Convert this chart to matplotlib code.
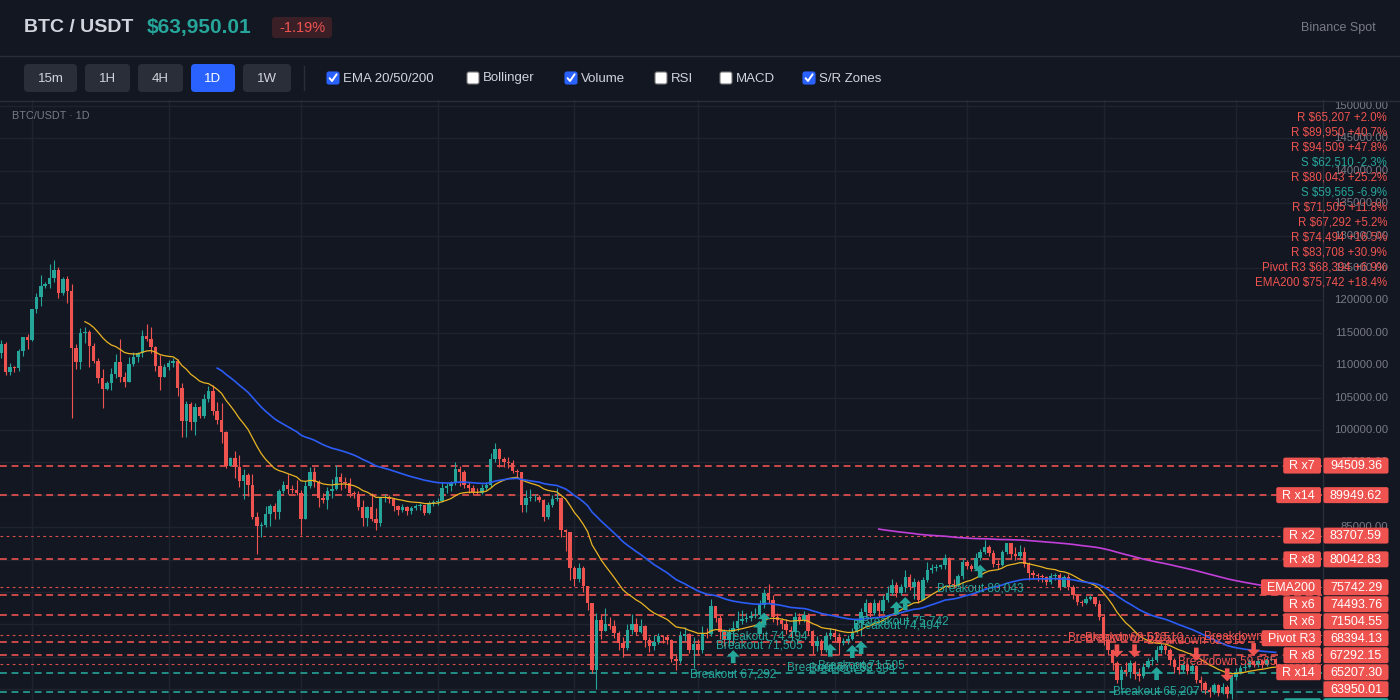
import matplotlib
matplotlib.use('Agg')
import matplotlib.pyplot as plt
from matplotlib.patches import FancyBboxPatch, Polygon
import numpy as np
import pandas as pd

plt.rcParams['font.family'] = ['Liberation Sans', 'DejaVu Sans']

# colours
BG = '#131722'
GRID = '#1f2330'
LINE = '#2a2e39'
UP = '#26a69a'
DOWN = '#ef5350'
TXT = '#d1d4dc'
MUTED = '#787b86'

# ---- daily BTC/USDT candles ----
start_date = '2025-09-24'
first_open = 111930
closes = [
    113270, 109000, 109770, 109500, 112240, 114300, 113890, 118620, 120570, 122220,
    122480, 123500, 124690, 121190, 123350, 121500, 112700, 110540, 114920, 115170,
    112960, 110700, 108080, 106380, 107300, 108640, 110490, 108230, 107460, 110190,
    111210, 111830, 114510, 113990, 112760, 109880, 108130, 109770, 110290, 110700,
    106530, 101390, 104010, 101240, 103500, 102160, 104730, 106070, 102930, 101550,
    99750, 94450, 95630, 94240, 92190, 93060, 91520, 86630, 85190, 85340,
    87040, 88280, 87400, 90590, 91520, 90850, 90750, 90230, 86320, 91360,
    93570, 92030, 89460, 89200, 90640, 90850, 92800, 91930, 91770, 90330,
    90130, 88170, 86480, 88070, 86320, 85600, 89500, 89700, 89300, 88200,
    87600, 88100, 87500, 87900, 88300, 88430,
    87250, 88690, 88900, 89100, 91000, 91300, 91870, 93930, 93570, 91500,
    91000, 90490, 90300, 91000, 91500, 95470, 97020, 95470, 95100, 94900,
    93720, 93500, 88430, 89450, 89600, 89700, 89200, 86630, 88430, 89300,
    89500, 84570, 84300, 78760,
    76960, 78700, 75900, 73360, 63000, 70700, 69000, 70000, 69700, 68600,
    67150, 66300, 69100, 70000, 68900, 69700, 67600, 66600, 67300, 68200,
    68000, 67600, 64700, 64300, 68200, 68500, 66100, 67000, 66100, 68700,
    68500, 72800, 71000, 68900, 67600, 68800, 69500, 70500, 70800, 71000,
    71300, 71500, 73000, 74900, 73800, 71200, 70700, 70000, 69200, 68900,
    71200, 70700, 71400, 69000, 66600, 67400, 66100, 68200, 68600, 68100,
    67200, 67500, 67800,
    68900, 70170, 71970, 73260, 71700, 73260, 72000, 73770, 74800, 76100,
    74800, 75800, 77370, 75800, 76600, 73800, 76860, 78400, 78650, 78900,
    79100, 80200, 76300, 76100, 77400, 79700, 79000, 78600, 80200, 81200,
    82000, 81000, 79400, 79200, 81200, 82500, 80800, 80500, 81200, 79400,
    77900, 77600, 77500, 77300, 76600, 77500, 77600, 75800, 77300, 75830,
    74560, 73500, 73300, 74000, 74200, 73200, 71200, 67600, 66000, 64000,
    61430, 62900, 62600, 64000, 62400, 62100, 63500, 64300, 64500, 66000,
    66600, 66000, 64500, 63500, 63000, 63800, 62800, 63600, 61400, 60900,
    59900, 59600, 60600, 59400, 60400, 59300, 61900, 62700, 63300, 63500,
    64300, 63800, 64300, 63700, 64500, 64700, 63950,
]
highs = [
    113900, 113600, 110290, 109800, 112450, 114400, 114800, 118700, 121090, 123910,
    122890, 125610, 126230, 125100, 123660, 123760, 122530, 113270, 115680, 115940,
    115430, 113370, 111060, 109360, 107610, 109520, 111730, 113990, 109000, 111210,
    112080, 112080, 115430, 116350, 115940, 112960, 111570, 110180, 110800, 111060,
    110900, 107300, 104530, 104370, 104120, 103700, 105560, 106790, 106940, 104370,
    104120, 99850, 95890, 96800, 96170, 93930, 93310, 93210, 87400, 85860,
    88270, 88580, 88690, 90850, 92180, 93210, 91520, 92290, 90740, 92180,
    94240, 94240, 92290, 90330, 91260, 92390, 94600, 93360, 92800, 92550,
    90640, 90640, 89200, 88280, 90230, 87910, 89720, 90100, 90000, 89500,
    88400, 88600, 88300, 88200, 88600, 88800,
    88430, 89000, 89200, 89500, 92000, 91800, 92100, 95000, 94400, 93830,
    92000, 91500, 91000, 91600, 92000, 96400, 98000, 97200, 95900, 95800,
    95300, 94000, 93400, 90700, 90900, 90200, 89900, 89400, 88900, 89900,
    91100, 89600, 84800, 84200,
    79000, 79500, 79000, 76000, 73300, 71800, 71400, 72500, 71200, 70700,
    69000, 68000, 70000, 71600, 71000, 70900, 69900, 68000, 68300, 68700,
    68400, 68300, 67800, 65300, 69000, 69600, 68700, 68000, 67700, 69800,
    69400, 73900, 72800, 71400, 69300, 69400, 70500, 72000, 72200, 71700,
    72000, 72500, 73800, 75400, 76200, 74500, 71700, 71000, 70800, 69800,
    71900, 71800, 72000, 71800, 69200, 68200, 67800, 68800, 69500, 69300,
    68600, 67900, 68300,
    69500, 70700, 72600, 73900, 73500, 74000, 73800, 74500, 76000, 77000,
    76500, 76300, 78400, 77800, 77200, 76800, 77300, 79700, 79300, 79300,
    79400, 80800, 80400, 77000, 77800, 80200, 79900, 79300, 81000, 81700,
    83030, 82300, 81500, 80000, 81500, 82600, 82500, 82000, 82300, 82000,
    79600, 78400, 78000, 77800, 77500, 77900, 78000, 77900, 77700, 77800,
    76100, 74700, 73800, 74400, 74600, 74300, 73800, 71600, 67800, 66200,
    64300, 63600, 64200, 64500, 64300, 63200, 64000, 64800, 65000, 66600,
    67200, 67000, 66300, 64800, 63900, 64200, 63900, 64100, 63800, 62000,
    61200, 60400, 61000, 60800, 60900, 60600, 62400, 63200, 63800, 64000,
    64700, 64500, 64800, 64600, 64900, 65100, 64800,
]
lows = [
    111060, 108490, 108490, 108900, 109160, 111420, 112450, 113800, 118000, 119130,
    121860, 121960, 122890, 120420, 120830, 119540, 101900, 109460, 109460, 113470,
    109770, 110290, 107300, 103450, 106170, 106170, 107970, 107460, 106690, 107460,
    109870, 110540, 111310, 113780, 111830, 109160, 106170, 108130, 109260, 109770,
    105240, 98970, 98970, 100000, 99230, 101800, 101800, 104370, 102320, 100880,
    98050, 94090, 94450, 92550, 91260, 89300, 89820, 86220, 80800, 83540,
    84980, 85190, 86220, 86220, 90230, 90130, 90330, 89970, 83800, 86220,
    91000, 91160, 88070, 88790, 87760, 89460, 90740, 90740, 91000, 89720,
    89460, 87660, 85190, 85190, 86010, 84570, 85190, 88900, 88700, 87500,
    86900, 87300, 86900, 87100, 87600, 87700,
    86900, 87100, 88300, 88500, 88900, 90300, 90600, 91500, 91300, 91000,
    90300, 89960, 90000, 90200, 90800, 91200, 95000, 94300, 94300, 94100,
    93300, 92600, 87300, 87300, 89000, 89100, 88900, 85900, 86300, 88100,
    89000, 83500, 81300, 76900,
    76000, 76500, 75000, 72300, 62500, 59990, 67800, 69000, 69300, 67900,
    66000, 65000, 66000, 68500, 68300, 68700, 66500, 65800, 66000, 67000,
    67200, 67000, 64200, 63000, 64000, 67500, 65600, 63300, 65400, 65600,
    67900, 68200, 70300, 67800, 66600, 66700, 66800, 69000, 70000, 70300,
    70500, 71000, 71300, 72600, 73300, 70400, 69900, 69300, 68500, 68000,
    68600, 70000, 70300, 68300, 65500, 65900, 65500, 65800, 67800, 67500,
    65300, 66900, 67000,
    67600, 68600, 68200, 71000, 71200, 71500, 71200, 71700, 73500, 74600,
    74300, 74600, 75000, 75300, 74000, 73300, 73800, 76500, 77900, 78200,
    78500, 78500, 75800, 75600, 75800, 77000, 78500, 78200, 78400, 80000,
    80900, 80500, 78900, 78600, 79000, 80800, 80300, 80000, 80100, 78800,
    76800, 77000, 76700, 76600, 76100, 76300, 76800, 75300, 75700, 75300,
    74000, 73000, 72800, 73100, 73700, 72900, 70700, 66800, 65300, 63000,
    60900, 60000, 62000, 61800, 61600, 61300, 61700, 63200, 63800, 64200,
    65600, 65400, 63800, 62500, 62400, 62600, 62300, 62500, 60900, 59800,
    59300, 58800, 59200, 58900, 59200, 58700, 58500, 61400, 62300, 62800,
    63200, 63400, 63500, 63300, 63600, 64300, 63600,
]

# support / resistance levels shown on the price scale
level_prices = [94509.36, 89949.62, 83707.59, 80042.83, 75742.29, 74493.76, 71504.55,
                68394.13, 67292.15, 65207.30, 63950.01, 62510.00, 59565.00]
level_names = ['R x7', 'R x14', 'R x2', 'R x8', 'EMA200', 'R x6', 'R x6',
               'Pivot R3', 'R x8', 'R x14', '', 'S x9', 'S x11']
level_side = ['R', 'R', 'R', 'R', 'R', 'R', 'R', 'R', 'R', 'R', 'R', 'S', 'S']
level_dotted = [False, False, True, False, True, False, False, True, False, False, True, False, False]

zone_list = ['R $65,207 +2.0%', 'R $89,950 +40.7%', 'R $94,509 +47.8%', 'S $62,510 -2.3%',
             'R $80,043 +25.2%', 'S $59,565 -6.9%', 'R $71,505 +11.8%', 'R $67,292 +5.2%',
             'R $74,494 +16.5%', 'R $83,708 +30.9%', 'Pivot R3 $68,394 +6.9%',
             'EMA200 $75,742 +18.4%']

# signal markers (bar index, text)
breakout_bars = [166, 172, 173, 188, 193, 195, 203, 205, 222, 262]
breakout_texts = ['Breakout 67,292', 'Breakout 71,505', 'Breakout 74,494', 'Breakout 67,292',
                  'Breakout 68,394', 'Breakout 71,505', 'Breakout 74,494', 'Breakout 75,742',
                  'Breakout 80,043', 'Breakout 65,207']
breakdown_bars = [253, 257, 271, 278, 284]
breakdown_texts = ['Breakdown 62,510', 'Breakdown 62,510', 'Breakdown 62,510',
                   'Breakdown 59,565', 'Breakdown 62,510']

timeframes = ['15m', '1H', '4H', '1D', '1W']
active_tf = '1D'
toggles = ['EMA 20/50/200', 'Bollinger', 'Volume', 'RSI', 'MACD', 'S/R Zones']
toggle_on = [True, False, True, False, False, True]

# ---- prepare ----
n = len(closes)
dates = pd.date_range(start_date, periods=n, freq='D')
o = np.array([first_open] + closes[:-1], dtype=float)
c = np.array(closes, dtype=float)
h = np.maximum(np.array(highs, dtype=float), np.maximum(o, c))
l = np.minimum(np.array(lows, dtype=float), np.minimum(o, c))
xs = np.arange(n)
cols = np.where(c >= o, UP, DOWN)

fig = plt.figure(figsize=(14, 7), dpi=100, facecolor=BG)
ax = fig.add_axes([0, 0, 1322 / 1400, 600 / 700])
ax.set_facecolor(BG)
ax.set_xlim(-0.25, 299.5)
ax.set_ylim(58339, 150919)
for s in ax.spines.values():
    s.set_visible(False)
ax.set_xticks([])
ax.set_yticks([])

for p in range(60000, 155000, 5000):
    ax.axhline(p, color=GRID, lw=1, zorder=0)
for i in np.where(dates.day == 1)[0]:
    ax.axvline(i, color=GRID, lw=1, zorder=0)

# S/R lines
for p, side, dot in zip(level_prices, level_side, level_dotted):
    col = UP if side == 'S' else DOWN
    if dot:
        ax.axhline(p, color=col, lw=0.8, ls=(0, (2.5, 3)), alpha=0.9, zorder=2)
    else:
        ax.axhline(p, color=col, lw=1.3, ls=(0, (3.8, 2.6)), alpha=0.9, zorder=2)

# candles
ax.vlines(xs, l, h, colors=cols, lw=0.8, zorder=3)
ax.bar(xs, np.maximum(np.abs(c - o), 120), bottom=np.minimum(o, c), width=0.78,
       color=cols, linewidth=0, zorder=4)

# EMAs
cs = pd.Series(c)
for span, col, lw in [(20, '#e9b422', 0.9), (50, '#2b5cf5', 1.2), (200, '#c23fd9', 1.2)]:
    e = cs.ewm(span=span, adjust=False).mean()
    ax.plot(xs[span - 1:], e[span - 1:], color=col, lw=lw, zorder=5)

# ---- overlay in pixel coordinates ----
ov = fig.add_axes([0, 0, 1, 1])
ov.set_zorder(10)
ov.patch.set_visible(False)
ov.set_xlim(0, 1400)
ov.set_ylim(700, 0)
ov.axis('off')


def to_px(xv, yv):
    return ov.transData.inverted().transform(ax.transData.transform((xv, yv)))


# header
ov.text(24, 28, 'BTC / USDT', color=TXT, fontsize=14, fontweight='bold', va='center')
ov.text(147, 28, '$63,950.01', color=UP, fontsize=15, fontweight='bold', va='center')
ov.add_patch(FancyBboxPatch((272, 17), 60, 21, boxstyle='round,pad=0,rounding_size=3',
                            fc='#3a1f27', ec='none'))
ov.text(302, 28, '-1.19%', color=DOWN, fontsize=10.5, ha='center', va='center')
ov.text(1376, 28, 'Binance Spot', color=MUTED, fontsize=9, ha='right', va='center')
ov.plot([0, 1400], [55.5, 55.5], color=LINE, lw=1)
ov.plot([0, 1400], [100.5, 100.5], color=LINE, lw=1)

btn_x = [24, 85, 138, 191, 243]
btn_w = [53, 45, 45, 44, 48]
for tf, bx, bw in zip(timeframes, btn_x, btn_w):
    fc = '#2962ff' if tf == active_tf else '#2a2e39'
    ov.add_patch(FancyBboxPatch((bx, 64), bw, 28, boxstyle='round,pad=0,rounding_size=4',
                                fc=fc, ec='none'))
    ov.text(bx + bw / 2, 78.5, tf, color='white' if tf == active_tf else TXT,
            fontsize=9.5, ha='center', va='center')
ov.plot([304, 304], [66, 90], color=LINE, lw=1)

tg_x = [327, 467, 565, 655, 720, 803]
for name, on, tx in zip(toggles, toggle_on, tg_x):
    ov.add_patch(FancyBboxPatch((tx, 72), 12, 12, boxstyle='round,pad=0,rounding_size=2',
                                fc='#2962ff' if on else 'white',
                                ec='#2962ff' if on else '#767676', lw=0.8))
    if on:
        ov.plot([tx + 2.6, tx + 5, tx + 9.6], [78.2, 81, 74.3], color='white', lw=1.4,
                solid_capstyle='round')
    ov.text(tx + 16, 78.5, name, color=TXT, fontsize=9.5, va='center')

ov.text(12, 116, 'BTC/USDT \u00b7 1D', color=MUTED, fontsize=7.8, va='center')

# price scale
ov.plot([1322.5, 1322.5], [100, 700], color=LINE, lw=1)
for p in range(60000, 155000, 5000):
    py = to_px(0, p)[1]
    if 100 < py < 700:
        ov.text(1388, py, f'{p:.2f}', color=MUTED, fontsize=8.2, ha='right', va='center',
                zorder=1)

for k, t in enumerate(zone_list):
    ov.text(1387, 117.5 + 15 * k, t, color=UP if t.startswith('S') else DOWN, fontsize=8.3,
            ha='right', va='center', zorder=2)

# level boxes, pushed down so they do not overlap
renderer = fig.canvas.get_renderer()
prev = -1e9
for p, name, side in zip(level_prices, level_names, level_side):
    col = UP if side == 'S' else DOWN
    py = max(to_px(0, p)[1], prev + 17)
    prev = py
    ov.add_patch(FancyBboxPatch((1323.5, py - 8), 65, 16,
                                boxstyle='round,pad=0,rounding_size=2', fc=col, ec='none',
                                zorder=3))
    ov.text(1356, py + 0.5, f'{p:.2f}', color='white', fontsize=9, ha='center', va='center',
            zorder=4)
    if name:
        t = ov.text(1315, py + 0.5, name, color='white', fontsize=9, ha='right', va='center',
                    zorder=4)
        w = t.get_window_extent(renderer=renderer).width
        ov.add_patch(FancyBboxPatch((1321 - w - 12, py - 8), w + 12, 16,
                                    boxstyle='round,pad=0,rounding_size=2', fc=col,
                                    ec='none', zorder=3))

# markers
for b, txt in zip(breakout_bars, breakout_texts):
    bx, by = to_px(b, l[b])
    t0 = by + 5
    ov.add_patch(Polygon([(bx, t0), (bx + 6.5, t0 + 6.5), (bx + 2.3, t0 + 6.5),
                          (bx + 2.3, t0 + 13), (bx - 2.3, t0 + 13), (bx - 2.3, t0 + 6.5),
                          (bx - 6.5, t0 + 6.5)], closed=True, fc=UP, ec='none', zorder=2))
    ov.text(bx, t0 + 24, txt, color=UP, fontsize=8.5, ha='center', va='center', zorder=2)

for b, txt in zip(breakdown_bars, breakdown_texts):
    bx, by = to_px(b, h[b])
    b0 = by - 4
    ov.add_patch(Polygon([(bx, b0), (bx + 6.5, b0 - 6.5), (bx + 2.3, b0 - 6.5),
                          (bx + 2.3, b0 - 13), (bx - 2.3, b0 - 13), (bx - 2.3, b0 - 6.5),
                          (bx - 6.5, b0 - 6.5)], closed=True, fc=DOWN, ec='none', zorder=2))
    ov.text(bx, b0 - 20, txt, color=DOWN, fontsize=8.5, ha='center', va='center', zorder=2)

fig.savefig('out.png', dpi=100, facecolor=BG)
